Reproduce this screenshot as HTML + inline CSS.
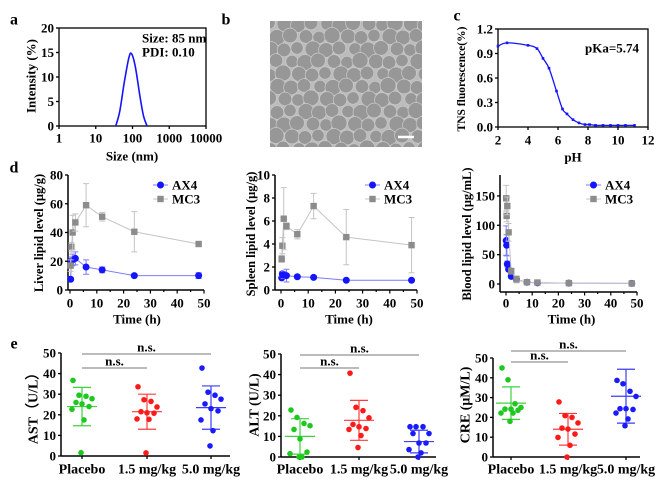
<!DOCTYPE html>
<html><head><meta charset="utf-8"><style>
body{margin:0;background:#fff}
svg{display:block;font-family:"Liberation Serif",serif;font-weight:bold}
</style></head><body>
<svg id="fig" width="668" height="485" viewBox="0 0 668 485" xmlns="http://www.w3.org/2000/svg">
<defs><clipPath id="temclip"><rect x="270" y="21" width="152" height="126"/></clipPath></defs>
</svg>
<script>
// ---- data ----
const dlsSize=[35,45,60,80,95,120,160,200,250];
const dlsInt=[0,3,9,14,14.7,12,6,2,0];
const phVals=[2,2.6,4,4.6,5,5.4,5.9,6.3,6.6,7,7.4,7.8,8.1,8.5,9,9.5,10,10.5,11.1];
const tnsVals=[0.99,1.03,1.0,0.96,0.84,0.72,0.44,0.22,0.16,0.09,0.05,0.03,0.03,0.02,0.02,0.02,0.02,0.02,0.02];
const tissueTimes=[0.25,0.5,1,2,6,12,24,48];
const liverAX4=[7.5,20,21,22,16,14,10,10];
const liverAX4Err=[1,3,4,4.5,5,2,1,2];
const liverMC3=[17,30,40,47,59,51,40.5,32];
const liverMC3Err=[4,3,12,6,15,3,14,1];
const spleenAX4=[1.05,1.4,1.3,1.25,1.15,1.1,0.85,0.85];
const spleenAX4Err=[0.15,0.2,0.3,0.55,0.15,0.15,0.1,0.1];
const spleenMC3=[2.7,3.85,6.2,5.55,4.85,7.3,4.6,3.9];
const spleenMC3Err=[0.3,0.7,2.7,0.3,0.4,1.1,2.4,2.4];
const bloodTimes=[0.083,0.25,0.5,1,2,4,8,12,24,48];
const bloodAX4=[74,66,34,25,13,7.5,3,2,1.5,1];
const bloodAX4Err=[25,18,5,3,3,5,1,1,1,1];
const bloodMC3=[146,116,133,88,22,8,3,2.5,1.5,1];
const bloodMC3Err=[22,10,15,15,5,6,1,1,1,1];
const groups=["Placebo","1.5 mg/kg","5.0 mg/kg"];
const astVals=[[36.7,29.5,29,27.8,26,25.3,24,22.7,17.5,1.6],[33.6,27.3,26.5,23.8,21.5,21,20.8,18,17.8,1.5],[42.7,31,29.5,27.6,25.3,23,21.9,17.5,12.3,4.9]];
const astMean=[24,21.5,23.5];
const astSD=[9.3,8.5,10.5];
const altVals=[[22.8,19.2,16.3,15.2,13.4,8.8,2.4,1.6,0,0],[40.7,24.1,22.5,19,15.8,14.7,13.8,13.4,10.4,4.6],[14.7,14.7,14.7,11.4,11.4,6.8,6.8,3.6,2,0]];
const altMean=[10,17.8,7.5];
const altSD=[8.6,9.7,5.5];
const creVals=[[45,39,26.9,25,24.2,24.2,23.6,22.2,22.2,18],[27.8,20.9,20,17.2,14.6,14.1,11.6,9.9,5.9,0],[38.7,37,33.2,30.6,24.4,24.4,24,22.2,19.2,15.8]];
const creMean=[27.2,14,30.7];
const creSD=[8.2,8,13.6];

const S=document.getElementById('fig');
const NS='http://www.w3.org/2000/svg';
const TK=13, TT=13;
function mk(tag,a,txt){const e=document.createElementNS(NS,tag);for(const k in a)e.setAttribute(k,a[k]);if(txt!==undefined)e.textContent=txt;S.appendChild(e);return e;}
function label(x,y,t,name,size,anchor,rot){const e=mk('text',{x:x,y:y,'font-size':size||TK,'text-anchor':anchor||'middle','dominant-baseline':'central'},t);if(rot)e.setAttribute('transform','rotate(-90 '+x+' '+y+')');


return e;}
function line(x1,y1,x2,y2,c,w,name){const e=mk('line',{x1:x1,y1:y1,x2:x2,y2:y2,stroke:c,'stroke-width':w||1.3});


return e;}
function smoothPath(pts){let d='M'+pts[0][0]+','+pts[0][1];for(let i=0;i<pts.length-1;i++){const p0=pts[i-1]||pts[i],p1=pts[i],p2=pts[i+1],p3=pts[i+2]||p2;d+=' C'+(p1[0]+(p2[0]-p0[0])/6)+','+(p1[1]+(p2[1]-p0[1])/6)+' '+(p2[0]-(p3[0]-p1[0])/6)+','+(p2[1]-(p3[1]-p1[1])/6)+' '+p2[0]+','+p2[1];}return d;}

// panel letters
[['a',14,20],['b',226,20],['c',457,16],['d',14,168],['e',14,344]].forEach(p=>{label(p[1],p[2],p[0],'panel-label-'+p[0],16);});

// ---- panel a ----
const ax=v=>59+Math.log10(v)*36.75, ay=v=>126-v/20*98;
mk('rect',{x:59,y:28,width:147,height:98,fill:'none',stroke:'#000','stroke-width':1.3});
[0,5,10,15,20].forEach(v=>{line(56,ay(v),59,ay(v),'#000',1.3,'dls-y-tick');label(54,ay(v),v,'dls-y-tick-label',TK,'end');});
[1,10,100,1000,10000].forEach(v=>{line(ax(v),126,ax(v),129,'#000',1.3,'dls-x-tick');label(ax(v),138,v,'dls-x-tick-label',TK);});
label(31,76,'Intensity (%)','dls-y-axis-title',TT,'middle',true);
label(132,156,'Size (nm)','dls-x-axis-title',TT);
label(142,38,'Size: 85 nm','dls-size-annotation',TT,'start');
label(142,52,'PDI: 0.10','dls-pdi-annotation',TT,'start');
{const p=mk('path',{d:smoothPath(dlsSize.map((s,i)=>[ax(s),ay(dlsInt[i])])),fill:'none',stroke:'#1414ff','stroke-width':1.6});

}

// ---- panel b (TEM image) ----
{const g=document.createElementNS(NS,'g');g.setAttribute('clip-path','url(#temclip)');S.appendChild(g);


const r=document.createElementNS(NS,'rect');r.setAttribute('x',270);r.setAttribute('y',21);r.setAttribute('width',152);r.setAttribute('height',126);r.setAttribute('fill','#bcbcbc');g.appendChild(r);
for(let j=0;j<11;j++)for(let i=0;i<12;i++){const c=document.createElementNS(NS,'circle');const rr=6.2+((i*7+j*3)%4)*0.6;c.setAttribute('cx',270+i*14+(j%2)*7+((i*5+j)%3)-1);c.setAttribute('cy',24+j*12.5+((i+j*2)%3)-1);c.setAttribute('r',rr);c.setAttribute('fill','#979797');c.setAttribute('stroke','#cacaca');c.setAttribute('stroke-width','0.7');g.appendChild(c);}
line(398,137,414,137,'#fff',2.5,'scale-bar');}

// ---- panel c ----
const cx=v=>498+(v-2)*15, cy=v=>127-v/1.2*98;
mk('rect',{x:498,y:29,width:150,height:98,fill:'none',stroke:'#000','stroke-width':1.3});
[0,0.3,0.6,0.9,1.2].forEach(v=>{line(495,cy(v),498,cy(v),'#000',1.3,'tns-y-tick');label(493,cy(v),v.toFixed(1),'tns-y-tick-label',TK,'end');});
[2,4,6,8,10,12].forEach(v=>{line(cx(v),127,cx(v),130,'#000',1.3,'tns-x-tick');label(cx(v),140,v,'tns-x-tick-label',TK);});
label(462,79,'TNS fluorescence(%)','tns-y-axis-title',11.5,'middle',true);
label(573,157,'pH','tns-x-axis-title',TT);
label(612,48,'pKa=5.74','pka-annotation',TT);
{const p=mk('path',{d:smoothPath(phVals.map((v,i)=>[cx(v),cy(tnsVals[i])])),fill:'none',stroke:'#1414ff','stroke-width':1.3});

}
phVals.forEach((v,i)=>{const e=mk('rect',{x:cx(v)-1.3,y:cy(tnsVals[i])-1.3,width:2.6,height:2.6,fill:'#1414ff'});

});

// ---- panel d helpers ----
function pkPanel(o){
 line(o.ax,o.top,o.ax,o.bottom,'#000',1.5,o.id+'-y-axis');
 line(o.ax,o.bottom,o.xs(50),o.bottom,'#000',1.5,o.id+'-x-axis');
 o.yt.forEach(v=>{line(o.ax-3,o.ys(v),o.ax,o.ys(v),'#000',1.3,o.id+'-y-tick');label(o.ax-5,o.ys(v),v,o.id+'-y-tick-label',TK,'end');});
 for(let v=0;v<=50;v+=5){line(o.xs(v),o.bottom,o.xs(v),o.bottom+(v%10?2:3.5),'#000',1.2,o.id+'-x-tick');}
 [0,10,20,30,40,50].forEach(v=>label(o.xs(v),303,v,o.id+'-x-tick-label',TK));
 label(o.titleX,o.titleY,o.title,o.id+'-y-axis-title',12.5,'middle',true);
 label(o.xs(25),319,'Time (h)',o.id+'-x-axis-title',TT);
 o.series.forEach(s=>{
  const pts=s.t.map((t,i)=>[o.xs(t),o.ys(s.v[i])]);
  const pl=mk('polyline',{points:pts.map(p=>p.join(',')).join(' '),fill:'none',stroke:s.lc,'stroke-width':1});
  
  
  s.t.forEach((t,i)=>{const x=o.xs(t),y1=o.ys(s.v[i]+s.e[i]),y2=o.ys(Math.max(0,s.v[i]-s.e[i]));
   const eb=mk('path',{d:'M'+x+','+y1+'V'+y2+'M'+(x-3)+','+y1+'h6M'+(x-3)+','+y2+'h6',stroke:s.lc,'stroke-width':1,fill:'none'});
   
   
   const m=s.sq?mk('rect',{x:x-3.2,y:o.ys(s.v[i])-3.2,width:6.4,height:6.4,fill:s.c}):mk('circle',{cx:x,cy:o.ys(s.v[i]),r:3.5,fill:s.c});
   
   });
 });
 o.series.forEach((s,k)=>{const y=185+k*14;line(o.lx,y,o.lx+15,y,s.lc,1,o.id+'-legend-line');
  const m=s.sq?mk('rect',{x:o.lx+4.3,y:y-3.2,width:6.4,height:6.4,fill:s.c}):mk('circle',{cx:o.lx+7.5,cy:y,r:3.5,fill:s.c});
  
  
  label(o.lx+19,y,s.name,o.id+'-legend-'+s.name,TT,'start');});
}
const BL='#1414ff',BLL='#7c7cff',GR='#8c8c8c',GRL='#c4c4c4';
pkPanel({id:'liver',ax:68,top:175,bottom:290,xs:v=>70+v*2.68,ys:v=>290-v/80*115,yt:[0,20,40,60,80],title:'Liver lipid level (μg/g)',titleX:39,titleY:233,lx:153,
 series:[{name:'AX4',t:tissueTimes,v:liverAX4,e:liverAX4Err,c:BL,lc:BLL},{name:'MC3',t:tissueTimes,v:liverMC3,e:liverMC3Err,c:GR,lc:GRL,sq:true}]});
pkPanel({id:'spleen',ax:275,top:175,bottom:290,xs:v=>281+v*2.72,ys:v=>290-v/10*115,yt:[0,2,4,6,8,10],title:'Spleen lipid level (μg/g)',titleX:251,titleY:234,lx:365,
 series:[{name:'AX4',t:tissueTimes,v:spleenAX4,e:spleenAX4Err,c:BL,lc:BLL},{name:'MC3',t:tissueTimes,v:spleenMC3,e:spleenMC3Err,c:GR,lc:GRL,sq:true}]});
pkPanel({id:'blood',ax:500,top:175,bottom:292,xs:v=>506+v*2.62,ys:v=>284-v*0.587,yt:[0,50,100,150],title:'Blood lipid level (μg/mL)',titleX:467,titleY:234,lx:586,
 series:[{name:'AX4',t:bloodTimes,v:bloodAX4,e:bloodAX4Err,c:BL,lc:BLL},{name:'MC3',t:bloodTimes,v:bloodMC3,e:bloodMC3Err,c:GR,lc:GRL,sq:true}]});

// ---- panel e ----
const jit=[-9,-3,4,10,-6,0,7,-10,2,-1];
const gcol=['#1ec81e','#ff1a1a','#1a1aff'];
function scatPanel(o){
 line(o.ax,o.ys(50),o.ax,o.ys(0),'#000',1.5,o.id+'-y-axis');
 line(o.ax,o.ys(0),o.xend,o.ys(0),'#000',1.5,o.id+'-x-axis');
 [0,10,20,30,40,50].forEach(v=>{line(o.ax-3,o.ys(v),o.ax,o.ys(v),'#000',1.3,o.id+'-y-tick');label(o.ax-5,o.ys(v),v,o.id+'-y-tick-label',TK,'end');});
 groups.forEach((g,i)=>{line(o.cx[i],o.ys(0),o.cx[i],o.ys(0)+3,'#000',1.3,o.id+'-x-tick');label(o.cx[i],470,g,o.id+'-category-label',14);
  const m=o.ys(o.mean[i]),hi=o.ys(o.mean[i]+o.sd[i]),lo=o.ys(o.mean[i]-o.sd[i]);
  const eb=mk('path',{d:'M'+(o.cx[i]-15)+','+m+'h30M'+o.cx[i]+','+hi+'V'+lo+'M'+(o.cx[i]-9)+','+hi+'h18M'+(o.cx[i]-9)+','+lo+'h18',stroke:gcol[i],'stroke-width':1.2,fill:'none','stroke-opacity':0.85});
  
  
  o.vals[i].forEach((v,k)=>{const c=mk('circle',{cx:o.cx[i]+jit[k],cy:o.ys(v),r:2.8,fill:gcol[i]});
   
   });
 });
 line(o.cx[0],o.ly[0],o.cx[2],o.ly[0],'#777',1.1,o.id+'-sig-bar-long');
 label((o.cx[0]+o.cx[2])/2,o.ly[0]-7,'n.s.',o.id+'-ns-label-long',TT);
 line(o.cx[0],o.ly[1],o.cx[1],o.ly[1],'#777',1.1,o.id+'-sig-bar-short');
 label((o.cx[0]+o.cx[1])/2,o.ly[1]-7,'n.s.',o.id+'-ns-label-short',TT);
 label(o.tx,405,o.title,o.id+'-y-axis-title',14,'middle',true);
}
scatPanel({id:'ast',ax:61,xend:230,ys:v=>456-v*2.06,cx:[82,147,211],vals:astVals,mean:astMean,sd:astSD,ly:[354,368],title:'AST（U/L）',tx:34});
scatPanel({id:'alt',ax:281,xend:436,ys:v=>457-v*2.06,cx:[300,359,419],vals:altVals,mean:altMean,sd:altSD,ly:[355,368],title:'ALT (U/L)',tx:255});
scatPanel({id:'cre',ax:493,xend:640,ys:v=>457-v*1.98,cx:[511,568,626],vals:creVals,mean:creMean,sd:creSD,ly:[351,362],title:'CRE (μM/L)',tx:466});
</script>
</body></html>
